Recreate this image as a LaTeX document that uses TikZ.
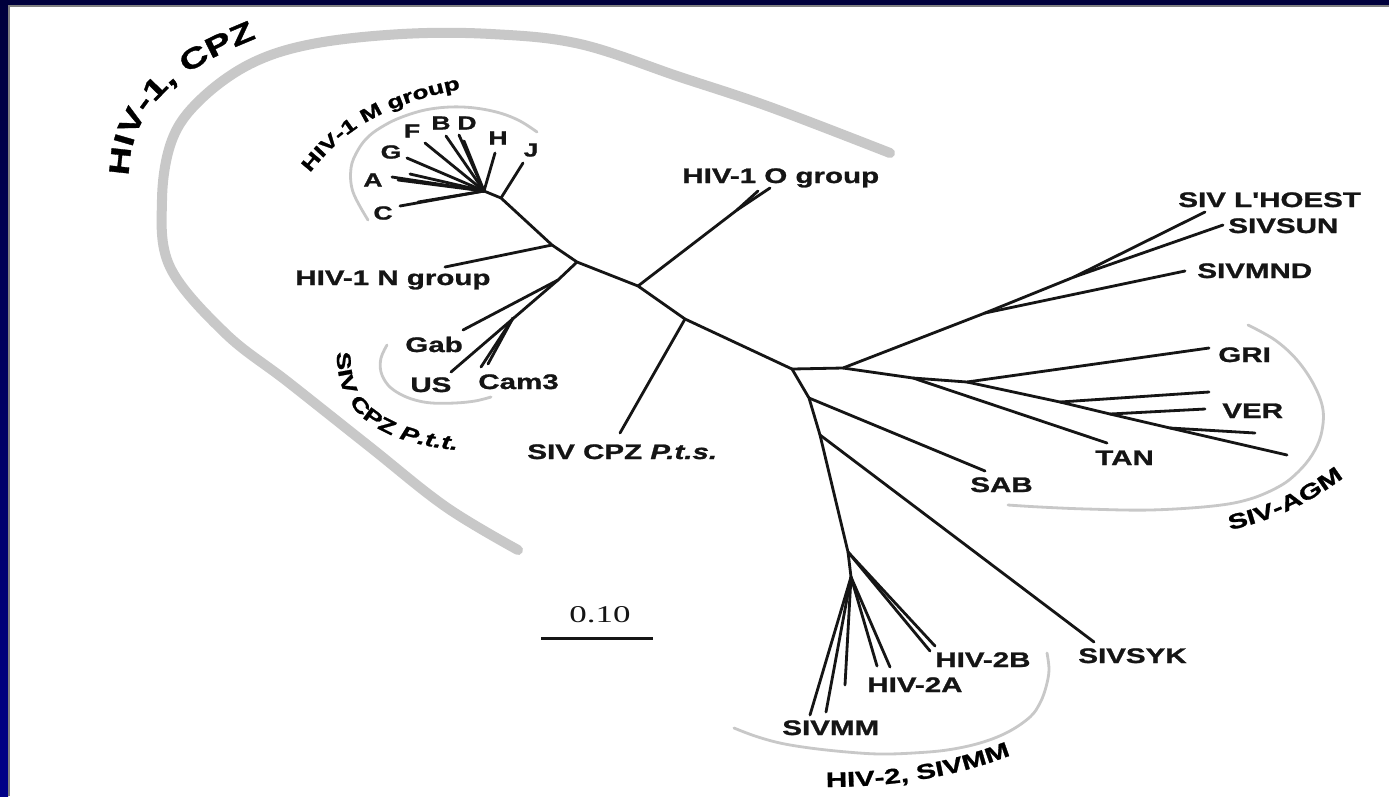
\documentclass[tikz,border=0pt]{standalone}
\usepackage{fontspec}
\newfontfamily\labf{Liberation Sans}[FakeStretch=1.4, BoldFeatures={FakeBold=1.2}, BoldItalicFeatures={FakeBold=1.2}]
\newfontfamily\numf{Liberation Serif}[FakeStretch=1.45]
\usetikzlibrary{decorations.text}
\definecolor{navyA}{HTML}{00003C}
\definecolor{navyB}{HTML}{000088}
\definecolor{band}{HTML}{C8C8C8}
\definecolor{inkc}{HTML}{151515}
\begin{document}
\begin{tikzpicture}[x=0.02cm,y=-0.02cm,
  br/.style={draw=inkc, line width=1.6pt, line cap=round},
  lab/.style={font=\labf\bfseries\fontsize{12}{14}\selectfont, inner sep=0pt, anchor=base west, text=inkc},
  let/.style={font=\labf\bfseries\fontsize{10.8}{12}\selectfont, inner sep=0pt, text=inkc},
  bigband/.style={draw=band, line width=5.7pt, line cap=round},
  thinband/.style={draw=band, line width=1.6pt, line cap=round},
  curvlab/.style={decorate, decoration={text along path, text align=left}}]

\useasboundingbox (0,0) rectangle (1389,796);
\fill[white] (0,0) rectangle (1389,796);
\shade[top color=navyA, bottom color=navyB] (0,0) rectangle (8,796);
\fill[navyA] (0,0) rectangle (1389,5);
\fill[gray] (8,5) rectangle (10,796);
\fill[gray] (8,5) rectangle (1389,7);

% grey group arcs
\draw[bigband] plot[smooth, tension=0.6] coordinates {(890,153) (770,107) (680,77) (580,44) (491,34) (402,34) (312,44) (250,64) (200,100) (172,140) (162,200) (170,267) (225,333) (288,382) (370,447) (446,507) (518,550)};
\draw[thinband] plot[smooth, tension=0.6] coordinates {(368,220) (353,192) (351,168) (358,150) (369,136) (385,125) (402,117) (425,110) (450,107) (475,108) (500,113) (520,121) (537,132)};
\draw[thinband] plot[smooth, tension=0.6] coordinates {(387,345) (381,358) (381,372) (388,385) (400,394) (415,400) (432,403) (455,403) (475,401) (491,397)};
\draw[thinband] plot[smooth, tension=0.6] coordinates {(1248,325) (1275,340) (1297,360) (1314,385) (1323,410) (1321,435) (1312,455) (1298,472) (1280,486) (1250,499) (1213,506) (1150,510) (1087,509) (1040,507) (1008,505)};
\draw[thinband] plot[smooth, tension=0.6] coordinates {(1047,653) (1049,670) (1046,687) (1040,703) (1030,717) (1008,732) (980,743) (947,750) (913,753) (880,754) (847,752) (810,748) (780,743) (755,736) (734,728)};

% tree coordinates
\coordinate (m0) at (484,191);
\coordinate (mj) at (501,198);
\coordinate (nN) at (552,245);
\coordinate (nP) at (577,262);
\coordinate (nO) at (638,286);
\coordinate (nS) at (685,319);
\coordinate (R) at (792,369);
% M group leaves
\coordinate (lC) at (400,206);
\coordinate (lC2) at (418,202);
\coordinate (lA1) at (392,177);
\coordinate (lA2) at (398,180);
\coordinate (lA3) at (410,174);
\coordinate (lG) at (407,158);
\coordinate (lF) at (425,143);
\coordinate (lB) at (446,136);
\coordinate (lD1) at (459,135);
\coordinate (lD2) at (464,141);
\coordinate (lH) at (495,153);
\coordinate (lJ) at (523,163);
% N and P.t.t.
\coordinate (lN) at (445,267);
\coordinate (p1) at (558,280);
\coordinate (p2) at (513,318);
\coordinate (lGab) at (463,330);
\coordinate (lUS) at (451,372);
\coordinate (lCam) at (481,367);
\coordinate (lCam2) at (488,364);
% O and P.t.s.
\coordinate (o1) at (737,210);
\coordinate (lO1) at (770,188);
\coordinate (lO2) at (758,191);
\coordinate (lPts) at (620,433);
% right side
\coordinate (a1) at (843,368);
\coordinate (u1) at (985,313);
\coordinate (u2) at (1074,277);
\coordinate (lMND) at (1185,271);
\coordinate (lLH) at (1205,212);
\coordinate (lSUN) at (1223,225);
\coordinate (t1) at (913,378);
\coordinate (g1) at (967,382);
\coordinate (lTAN) at (1107,443);
\coordinate (lGRI) at (1209,348);
\coordinate (v1) at (1060,402);
\coordinate (v2) at (1110,414);
\coordinate (v3) at (1170,428);
\coordinate (lV1) at (1209,392);
\coordinate (lV2) at (1205,409);
\coordinate (lV3) at (1255,433);
\coordinate (lV4) at (1287,455);
\coordinate (s1) at (809,398);
\coordinate (s2) at (820,435);
\coordinate (lSAB) at (985,471);
\coordinate (lSYK) at (1094,642);
\coordinate (h1) at (848,552);
\coordinate (h2) at (851,577);
\coordinate (lB1) at (930,651);
\coordinate (lB2) at (935,646);
\coordinate (lHA1) at (890,667);
\coordinate (lHA2) at (877,666);
\coordinate (lM1) at (810,715);
\coordinate (lM2) at (826,712);
\coordinate (lM3) at (845,685);

% branches
\draw[br] (m0) -- (mj) -- (nN) -- (nP) -- (nO) -- (nS) -- (R);
\foreach \l in {lC,lC2,lA1,lA2,lA3,lG,lF,lB,lD1,lD2,lH} \draw[br] (m0) -- (\l);
\draw[br] (mj) -- (lJ);
\draw[br] (nN) -- (lN);
\draw[br] (nP) -- (p1) -- (lGab);
\draw[br] (p1) -- (lUS);
\draw[br] (p2) -- (lCam);
\draw[br] (p2) -- (lCam2);
\draw[br] (nO) -- (o1) -- (lO1);
\draw[br] (o1) -- (lO2);
\draw[br] (nS) -- (lPts);
\draw[br] (R) -- (a1) -- (u1) -- (u2) -- (lLH);
\draw[br] (u2) -- (lSUN);
\draw[br] (u1) -- (lMND);
\draw[br] (a1) -- (t1) -- (g1) -- (lGRI);
\draw[br] (t1) -- (lTAN);
\draw[br] (g1) -- (v1) -- (v2) -- (v3) -- (lV4);
\draw[br] (v1) -- (lV1);
\draw[br] (v2) -- (lV2);
\draw[br] (v3) -- (lV3);
\draw[br] (R) -- (s1) -- (s2) -- (h1) -- (h2);
\draw[br] (s1) -- (lSAB);
\draw[br] (s2) -- (lSYK);
\draw[br] (h1) -- (lB1);
\draw[br] (h1) -- (lB2);
\foreach \l in {lHA1,lHA2,lM1,lM2,lM3} \draw[br] (h2) -- (\l);

% scale bar
\coordinate (sbL) at (541,638);
\coordinate (sbR) at (653,638);
\draw[draw=inkc, line width=1.7pt] (sbL) -- (sbR);
\node[inner sep=0pt, font=\numf\fontsize{13.7}{16}\selectfont, text=inkc] (sb) at (600,615) {0.10};

% straight labels
\node[lab] (tN) at (295,285) {HIV-1 N group};
\node[lab] (tO) at (682,183) {HIV-1 O group};
\node[lab] (tPts) at (527,459) {SIV CPZ \itshape P.t.s.};
\node[lab] (tLH) at (1178,207) {SIV L'HOEST};
\node[lab] (tSUN) at (1228,233) {SIVSUN};
\node[lab] (tMND) at (1197,278) {SIVMND};
\node[lab] (tGRI) at (1218,362) {GRI};
\node[lab] (tVER) at (1222,418) {VER};
\node[lab] (tTAN) at (1095,465) {TAN};
\node[lab] (tSAB) at (970,492) {SAB};
\node[lab] (tHB) at (935,667) {HIV-2B};
\node[lab] (tHA) at (867,692) {HIV-2A};
\node[lab] (tMM) at (782,735) {SIVMM};
\node[lab] (tSYK) at (1078,663) {SIVSYK};
\node[lab] (tGab) at (405,352) {Gab};
\node[lab] (tUS) at (410,392) {US};
\node[lab] (tCam) at (478,389) {Cam3};

% M group subtype letters
\node[let] (xA) at (373,180) {A};
\node[let] (xC) at (383,213) {C};
\node[let] (xG) at (391,152) {G};
\node[let] (xF) at (412,131) {F};
\node[let] (xB) at (441,123) {B};
\node[let] (xD) at (467,123) {D};
\node[let] (xH) at (498,138) {H};
\node[let] (xJ) at (531,150) {J};

% curved group labels
\path[curvlab, decoration={text={|\labf\bfseries\fontsize{16}{18}\selectfont|HIV-1, CPZ}}]
  (129,176) .. controls (129,112) and (172,70) .. (265,35);
\path[curvlab, decoration={text={|\labf\bfseries\fontsize{10.6}{12}\selectfont|HIV-1 M group}}]
  (310,173) .. controls (340,135) and (380,100) .. (490,84);
\path[curvlab, decoration={text={|\labf\bfseries\fontsize{11.2}{13}\selectfont|SIV CPZ |+\itshape|P.t.t.}}]
  (337,352) .. controls (335,420) and (390,452) .. (500,452);
\path[curvlab, decoration={text={|\labf\bfseries\fontsize{12}{14}\selectfont|SIV-AGM}}]
  (1230,530) .. controls (1275,520) and (1320,500) .. (1365,460);
\path[curvlab, decoration={text={|\labf\bfseries\fontsize{12}{14}\selectfont|HIV-2, SIVMM}}]
  (826,787) .. controls (900,787) and (975,775) .. (1045,740);
\end{tikzpicture}
\end{document}
